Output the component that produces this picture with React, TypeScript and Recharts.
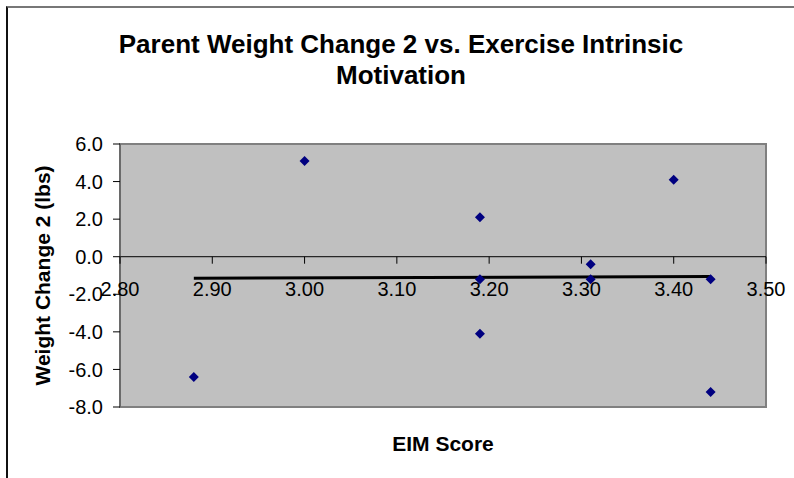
import React from 'react';
import { ScatterChart, Scatter, XAxis, YAxis, ReferenceArea, ReferenceLine } from 'recharts';

// EIM score vs weight change (lbs)
const eimScores = [2.88, 3.0, 3.19, 3.19, 3.19, 3.31, 3.31, 3.4, 3.44, 3.44];
const weightChanges = [-6.4, 5.1, 2.1, -1.2, -4.1, -0.4, -1.2, 4.1, -1.2, -7.2];

// linear trendline end points
const trendX = [2.88, 3.44];
const trendY = [-1.15, -1.05];

const xTicks = [2.8, 2.9, 3.0, 3.1, 3.2, 3.3, 3.4, 3.5];
const yTicks = [-8, -6, -4, -2, 0, 2, 4, 6];

const W = 794;
const H = 478;
const MARGIN = { top: 144, right: 28, bottom: 21, left: 40 };
const Y_AXIS_W = 80;
const X_AXIS_H = 50;

const points = eimScores.map((x, i) => ({ x, y: weightChanges[i] }));
const trend = trendX.map((x, i) => ({ x, y: trendY[i] }));

const plotH = H - MARGIN.top - MARGIN.bottom - X_AXIS_H;
const zeroY = MARGIN.top + (plotH * (yTicks[yTicks.length - 1] - 0)) / (yTicks[yTicks.length - 1] - yTicks[0]);

const FONT = '"Liberation Sans", Arial, sans-serif';

const Diamond = (props: any) => {
  const { cx, cy } = props;
  const r = 5;
  return <path d={`M${cx},${cy - r}L${cx + r},${cy}L${cx},${cy + r}L${cx - r},${cy}Z`} fill="#000080" />;
};

const XTick = (props: any) => {
  const { x, payload } = props;
  return (
    <g>
      <line x1={x} x2={x} y1={zeroY} y2={zeroY + 7} stroke="#000" />
      <text x={x} y={zeroY + 39} textAnchor="middle" fontSize={20} fontFamily={FONT} fill="#000">
        {payload.value.toFixed(2)}
      </text>
    </g>
  );
};

export default function App() {
  return (
    <div style={{ position: 'absolute', left: 0, top: 0, width: W, height: H, background: '#fff', fontFamily: FONT }}>
      <div style={{ position: 'absolute', left: 6, top: 6, right: 0, bottom: 0, borderTop: '2px solid #777', borderLeft: '2px solid #111' }} />
      <div style={{ position: 'absolute', left: 8, width: W - 8, top: 29, textAlign: 'center', fontWeight: 'bold', fontSize: 26, lineHeight: '31px', color: '#000' }}>
        Parent Weight Change 2 vs. Exercise Intrinsic
        <br />
        Motivation
      </div>
      <ScatterChart width={W} height={H} margin={MARGIN} style={{ position: 'absolute', left: 0, top: 0 }}>
        <XAxis
          type="number"
          dataKey="x"
          domain={[2.8, 3.5]}
          ticks={xTicks}
          height={X_AXIS_H}
          axisLine={false}
          tickLine={false}
          tick={<XTick />}
          interval={0}
          allowDataOverflow
        />
        <YAxis
          type="number"
          dataKey="y"
          domain={[-8, 6]}
          ticks={yTicks}
          width={Y_AXIS_W}
          interval={0}
          tickSize={7}
          tickMargin={10}
          tickFormatter={(v: number) => v.toFixed(1)}
          tick={{ fontSize: 20, fill: '#000', fontFamily: FONT }}
          axisLine={{ stroke: '#555' }}
          tickLine={{ stroke: '#000' }}
          label={{
            value: 'Weight Change 2 (lbs)',
            angle: -90,
            position: 'insideLeft',
            offset: 3,
            style: { fontSize: 21, fontWeight: 'bold', fill: '#000', fontFamily: FONT, textAnchor: 'middle' },
          }}
        />
        <ReferenceArea x1={2.8} x2={3.5} y1={-8} y2={6} fill="#C0C0C0" fillOpacity={1} stroke="#808080" strokeWidth={2} />
        <ReferenceLine y={0} stroke="#000" />
        <Scatter data={trend} line={{ stroke: '#000', strokeWidth: 3 }} shape={() => <g />} isAnimationActive={false} />
        <Scatter data={points} shape={<Diamond />} isAnimationActive={false} />
      </ScatterChart>
      <div style={{ position: 'absolute', left: 120, width: 646, top: 432, textAlign: 'center', fontWeight: 'bold', fontSize: 21, color: '#000' }}>
        EIM Score
      </div>
    </div>
  );
}
